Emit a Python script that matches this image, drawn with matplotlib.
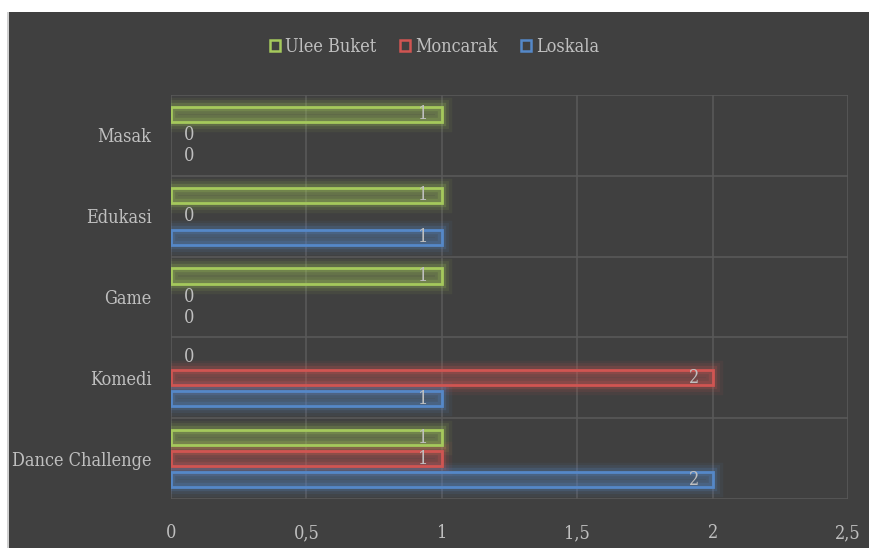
import matplotlib
import matplotlib.pyplot as plt
from matplotlib.patches import Patch, Rectangle
import numpy as np

# data (bottom to top)
categories = ['Dance Challenge', 'Komedi', 'Game', 'Edukasi', 'Masak']
loskala = [2, 1, 0, 1, 0]
moncarak = [1, 2, 0, 0, 0]
ulee_buket = [1, 0, 1, 1, 1]
series_names = ['Ulee Buket', 'Moncarak', 'Loskala']
xticks = [0, 0.5, 1, 1.5, 2, 2.5]
xtick_labels = ['0', '0,5', '1', '1,5', '2', '2,5']

matplotlib.rcParams['font.family'] = 'DejaVu Serif'
matplotlib.rcParams['font.stretch'] = 'condensed'

bg = '#404040'
txt = '#bfbfbf'
grid_c = '#595959'
colors = {'Ulee Buket': '#a5c95c', 'Moncarak': '#d05552', 'Loskala': '#5588c8'}
values = {'Ulee Buket': ulee_buket, 'Moncarak': moncarak, 'Loskala': loskala}
offsets = {'Ulee Buket': 0.26, 'Moncarak': 0.0, 'Loskala': -0.26}

fig = plt.figure(figsize=(8.69, 5.48), dpi=100)
fig.patch.set_facecolor('white')
fig.patches.append(Rectangle((9 / 869, 0), 1, 1 - 12 / 548, transform=fig.transFigure,
                             facecolor=bg, edgecolor='none', zorder=-10))
fig.patches.append(Rectangle((7 / 869, 0), 2 / 869, 1 - 12 / 548, transform=fig.transFigure,
                             facecolor='#d0d0d0', edgecolor='none', zorder=-10))

ax = fig.add_axes([171 / 869, 49 / 548, 677 / 869, 404 / 548])
ax.set_facecolor(bg)
ind = np.arange(len(categories))

for name in series_names:
    col = colors[name]
    vals = np.array(values[name], dtype=float)
    ys = ind + offsets[name]
    nz = vals > 0
    # soft glow round each bar
    for lw, a in [(14, 0.07), (10, 0.1), (6, 0.2)]:
        ax.barh(ys[nz], vals[nz], height=0.19, facecolor='none',
                edgecolor=matplotlib.colors.to_rgba(col, a), linewidth=lw, zorder=2)
    ax.barh(ys[nz], vals[nz], height=0.19, facecolor=matplotlib.colors.to_rgba(col, 0.26),
            edgecolor=col, linewidth=2, zorder=3)
    for y, v in zip(ys, vals):
        if v > 0:
            ax.annotate(f'{v:g}', (v, y), xytext=(-10, 0), textcoords='offset points',
                        ha='right', va='center', color=txt, fontsize=13, zorder=5)
        else:
            ax.annotate(f'{v:g}', (0, y), xytext=(9, 0), textcoords='offset points',
                        ha='left', va='center', color=txt, fontsize=13, zorder=5)

ax.set_xlim(0, 2.5)
ax.set_ylim(-0.5, 4.5)
ax.set_xticks(xticks)
ax.set_xticklabels(xtick_labels)
ax.set_yticks(ind)
ax.set_yticklabels(categories)
ax.set_yticks(np.arange(-0.5, 5, 1), minor=True)
ax.tick_params(axis='both', length=0, colors=txt, labelsize=13)
ax.tick_params(axis='x', pad=18)
ax.tick_params(axis='y', pad=14)
ax.tick_params(which='minor', length=0)
ax.grid(axis='x', which='major', color=grid_c, linewidth=1.2, zorder=0)
ax.grid(axis='y', which='minor', color=grid_c, linewidth=1.2, zorder=0)
for s in ax.spines.values():
    s.set_visible(False)

handles = [Patch(facecolor='none', edgecolor=colors[n], linewidth=1.8, label=n) for n in series_names]
leg = fig.legend(handles=handles, loc='center', bbox_to_anchor=(0.5, 1 - 47 / 548), ncols=3,
                 frameon=False, handlelength=0.55, handleheight=0.55, handletextpad=0.3,
                 columnspacing=1.3, fontsize=13)
for t in leg.get_texts():
    t.set_color(txt)

fig.savefig('out.png', dpi=100, facecolor=fig.get_facecolor())
